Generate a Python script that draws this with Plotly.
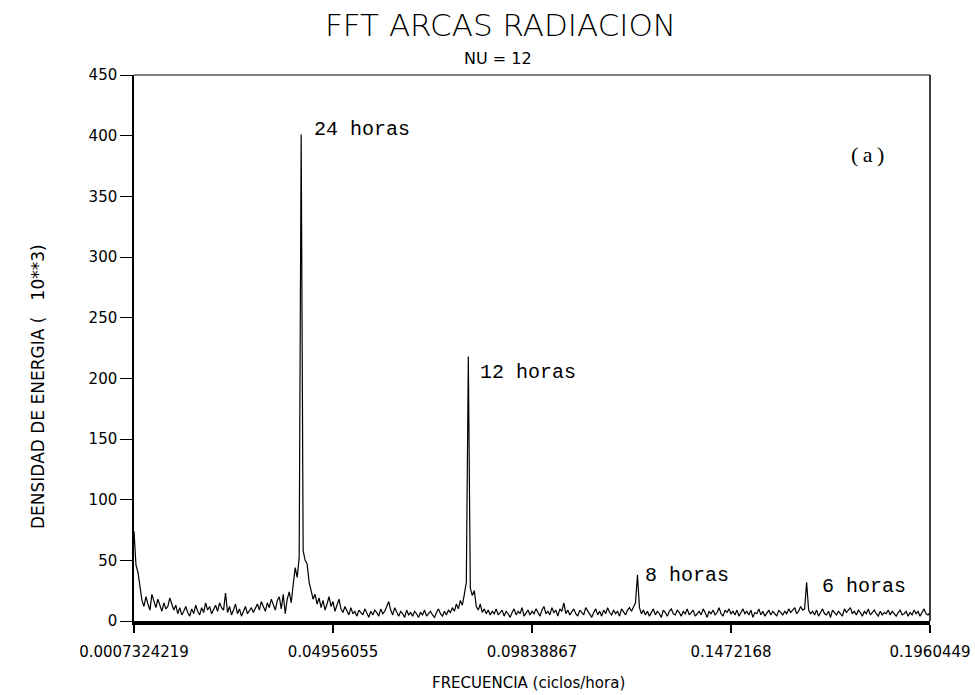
import plotly.graph_objects as go

# ---- data -------------------------------------------------------------
F0 = 0.0007324219          # first frequency (ciclos/hora)
DF = 0.00048828125         # spacing of the spectral estimates
energia = [
    74, 46, 40, 27, 17, 12, 20, 14, 9, 22, 16, 11, 18, 13, 8, 15, 10, 12, 19, 14,
    9, 13, 6, 11, 5, 8, 12, 7, 4, 10, 6, 13, 8, 5, 11, 7, 15, 9, 12, 6,
    10, 13, 8, 15, 11, 9, 23, 7, 12, 5, 9, 14, 6, 10, 4, 8, 12, 6, 9, 11,
    7, 10, 14, 9, 16, 12, 8, 15, 11, 18, 13, 9, 17, 20, 10, 22, 6, 18, 24, 15,
    30, 44, 36, 52, 401, 58, 50, 47, 32, 25, 18, 22, 14, 19, 11, 17, 9, 14, 20, 12,
    16, 8, 13, 18, 10, 7, 12, 9, 5, 11, 6, 8, 4, 9, 7, 5, 10, 6, 3, 8,
    5, 9, 7, 4, 10, 6, 8, 12, 16, 9, 5, 11, 7, 4, 8, 6, 3, 9, 5, 7,
    4, 8, 6, 3, 7, 5, 9, 4, 6, 8, 5, 3, 7, 10, 6, 4, 8, 5, 9, 7,
    11, 8, 14, 10, 17, 13, 22, 32, 218, 27, 21, 25, 12, 9, 14, 7, 10, 6, 9, 5,
    8, 6, 10, 5, 7, 9, 4, 8, 6, 3, 7, 10, 5, 8, 6, 11, 4, 7, 9, 5,
    8, 6, 10, 7, 4, 9, 12, 6, 8, 5, 11, 7, 9, 4, 10, 8, 15, 6, 9, 5,
    8, 10, 6, 4, 9, 7, 5, 11, 8, 6, 3, 7, 10, 5, 8, 4, 9, 6, 11, 7,
    5, 9, 6, 8, 4, 10, 7, 5, 9, 11, 8, 12, 15, 38, 11, 6, 9, 5, 8, 4,
    7, 10, 5, 8, 6, 3, 9, 7, 4, 8, 10, 6, 5, 9, 7, 4, 8, 6, 10, 5,
    7, 9, 4, 6, 8, 5, 10, 7, 3, 8, 6, 9, 5, 7, 11, 6, 4, 9, 7, 10,
    6, 8, 5, 9, 4, 7, 10, 6, 8, 5, 9, 3, 7, 6, 10, 5, 8, 4, 7, 9,
    5, 8, 6, 4, 9, 7, 5, 8, 6, 10, 7, 9, 11, 6, 8, 12, 9, 10, 32, 9,
    6, 8, 5, 9, 4, 7, 10, 6, 5, 8, 3, 9, 7, 5, 8, 6, 4, 10, 7, 9,
    11, 6, 8, 5, 9, 7, 4, 8, 6, 10, 5, 7, 9, 6, 4, 8, 5, 7, 6, 9,
    5, 8, 6, 4, 7, 9, 5, 6, 8, 4, 7, 5, 9, 6, 8, 4, 7, 10, 6, 5, 7,
]
frecuencia = [F0 + i * DF for i in range(len(energia))]

x_ticks = [0.0007324219, 0.04956055, 0.09838867, 0.1472168, 0.1960449]
x_tick_text = ["0.0007324219", "0.04956055", "0.09838867", "0.1472168", "0.1960449"]
y_ticks = [0, 50, 100, 150, 200, 250, 300, 350, 400, 450]

picos = ["24 horas", "12 horas", "8 horas", "6 horas"]

# ---- figure -----------------------------------------------------------
fig = go.Figure()
fig.add_trace(go.Scatter(x=frecuencia, y=energia, mode="lines",
                         line=dict(color="black", width=1.2),
                         hoverinfo="skip", showlegend=False))

tickfont = dict(family="DejaVu Sans", size=15, color="black")
fig.update_layout(
    width=975, height=695,
    margin=dict(l=134, r=45, t=75, b=74),
    paper_bgcolor="white", plot_bgcolor="white",
    showlegend=False,
    xaxis=dict(range=[x_ticks[0], x_ticks[-1]], tickmode="array",
               tickvals=x_ticks, ticktext=x_tick_text, automargin=False,
               ticks="outside", ticklen=8, tickwidth=1.5, tickcolor="black",
               ticklabelstandoff=6,
               showline=True, linecolor="black", linewidth=4,
               showgrid=False, zeroline=False, tickfont=tickfont),
    yaxis=dict(range=[0, 450], tickmode="array", tickvals=y_ticks,
               automargin=False,
               ticks="outside", ticklen=12, tickwidth=1, tickcolor="black",
               showline=True, linecolor="black", linewidth=1.5,
               showgrid=False, zeroline=False, tickfont=tickfont),
)

# top and right frame lines
fig.add_shape(type="line", xref="paper", yref="paper", x0=0, x1=1, y0=1, y1=1,
              line=dict(color="black", width=1))
fig.add_shape(type="line", xref="paper", yref="paper", x0=1, x1=1, y0=0, y1=1,
              line=dict(color="black", width=1.5))

def label(text, x, y, font, xanchor="center", angle=0):
    fig.add_annotation(text=text, xref="paper", yref="paper", x=x, y=y,
                       xanchor=xanchor, yanchor="middle", showarrow=False,
                       textangle=angle, font=font)

# titles
label("FFT ARCAS RADIACION", 0.4598, 1.0916,
      dict(family="DejaVu Sans", size=31, color="black", weight=200))
label("NU = 12", 0.4573, 1.0311, dict(family="DejaVu Sans", size=16, color="black"))
label("DENSIDAD DE ENERGIA (   10**3)", -0.1206, 0.4286,
      dict(family="DejaVu Sans", size=17, color="black"), angle=-90)
label("FRECUENCIA (ciclos/hora)", 0.4962, -0.1136,
      dict(family="DejaVu Sans", size=15, color="black"))

# peak labels
pos = [(0.2236, 0.8993), (0.4322, 0.456), (0.6394, 0.0842), (0.8618, 0.0641)]
for txt, (px, py) in zip(picos, pos):
    label(txt, px, py, dict(family="Liberation Mono", size=20, color="black"),
          xanchor="left")
label("(\u2009a\u2009)", 0.9209, 0.8535,
      dict(family="Liberation Serif", size=22, color="black"))

fig.write_html("out.html")
